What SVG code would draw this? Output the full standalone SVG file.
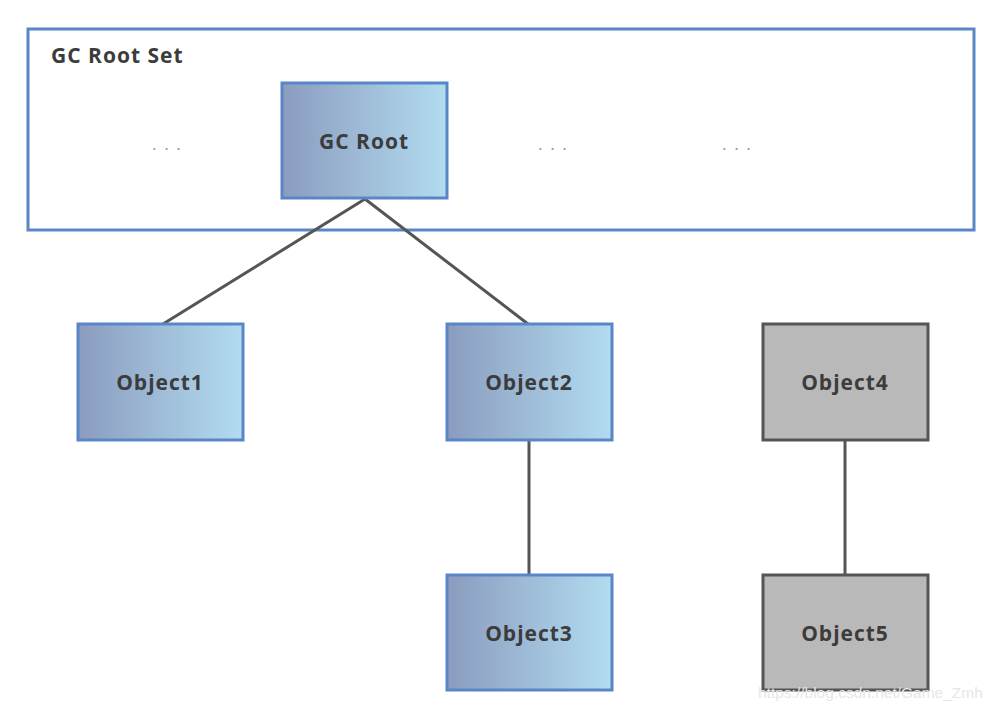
<svg xmlns="http://www.w3.org/2000/svg" width="994" height="712" viewBox="0 0 994 712">
<defs>
<linearGradient id="blue" x1="0" y1="0" x2="1" y2="0">
<stop offset="0" stop-color="#8b9cbf"/>
<stop offset="1" stop-color="#b2dcf0"/>
</linearGradient>
<style>
.blue{fill:url(#blue);stroke:#5a86c8;stroke-width:3}
.gray{fill:#b9b9b9;stroke:#555;stroke-width:3}
.lbl{font-family:"Open Sans","DejaVu Sans",sans-serif;font-weight:bold;font-size:21px;letter-spacing:1px;fill:#3c3c3c;text-anchor:middle}
.dots{font-family:"DejaVu Sans",sans-serif;font-size:16px;fill:#999;text-anchor:middle;letter-spacing:7px}
.conn{stroke:#555;stroke-width:3;fill:none}
</style>
</defs>
<rect width="994" height="712" fill="#fff"/>
<g id="gc-root-set">
<rect x="28" y="29" width="946" height="201" fill="none" stroke="#5b86c6" stroke-width="3"/>
<text x="51" y="63" class="lbl" style="text-anchor:start;font-size:21px">GC Root Set</text>
<text x="170" y="150" class="dots">...</text>
<text x="556" y="150" class="dots">...</text>
<text x="740" y="150" class="dots">...</text>
</g>
<g id="connectors">
<line class="conn" x1="365" y1="199" x2="163" y2="324"/>
<line class="conn" x1="365" y1="199" x2="528" y2="324"/>
<line class="conn" x1="529" y1="440" x2="529" y2="575"/>
<line class="conn" x1="845" y1="440" x2="845" y2="575"/>
</g>
<g id="gc-root">
<rect class="blue" x="282" y="83" width="165" height="115"/>
<text x="364" y="149" class="lbl">GC Root</text>
</g>
<g id="object1">
<rect class="blue" x="78" y="324" width="165" height="116"/>
<text x="160" y="390" class="lbl">Object1</text>
</g>
<g id="object2">
<rect class="blue" x="447" y="324" width="165" height="116"/>
<text x="529" y="390" class="lbl">Object2</text>
</g>
<g id="object3">
<rect class="blue" x="447" y="575" width="165" height="115"/>
<text x="529" y="641" class="lbl">Object3</text>
</g>
<g id="object4">
<rect class="gray" x="763" y="324" width="165" height="116"/>
<text x="845" y="390" class="lbl">Object4</text>
</g>
<g id="object5">
<rect class="gray" x="763" y="575" width="165" height="115"/>
<text x="845" y="641" class="lbl">Object5</text>
</g>
<text x="758" y="698" font-family="Liberation Sans,Arial,sans-serif" font-size="15.5" fill="#e6e6e6">https://blog.csdn.net/Game_Zmh</text>
</svg>
